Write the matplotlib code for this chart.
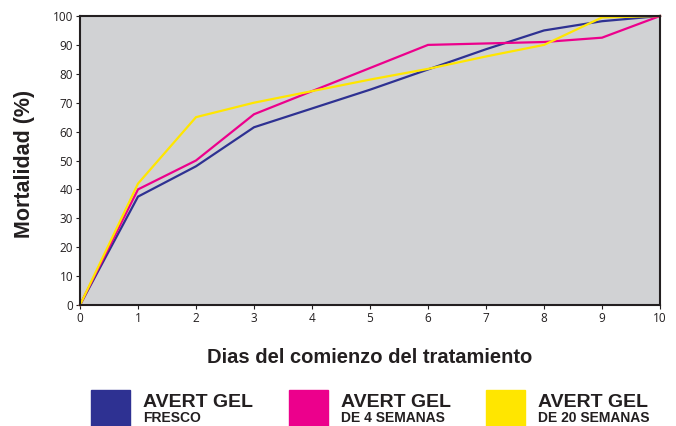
import matplotlib
matplotlib.use("Agg")
import matplotlib.pyplot as plt
from matplotlib.patches import Rectangle

days = [0, 1, 2, 3, 4, 5, 6, 7, 8, 9, 10]
fresco = [0, 37.5, 48, 61.5, 68, 74.5, 81.5, 88.5, 95, 98.2, 100]
semanas4 = [0, 40, 50, 66, 74, 82, 90, 90.5, 91, 92.5, 100]
semanas20 = [0, 42, 65, 70, 74, 78, 81.7, 86, 90, 99.5, 100]

series_names = [("AVERT GEL", "FRESCO"), ("AVERT GEL", "DE 4 SEMANAS"), ("AVERT GEL", "DE 20 SEMANAS")]
colors = ["#2E3192", "#EC008C", "#FFE600"]
yticks = list(range(0, 101, 10))

W, H = 676, 426
fig = plt.figure(figsize=(W / 100, H / 100), dpi=100)
ax = fig.add_axes([80 / W, 1 - 305 / H, 580 / W, 289 / H])
ax.set_facecolor("#D1D2D4")

for vals, c in zip([fresco, semanas4, semanas20], colors):
    ax.plot(days, vals, color=c, lw=1.6, solid_joinstyle="miter", clip_on=False)

ax.set_xlim(0, 10)
ax.set_ylim(0, 100)
ax.set_xticks(days)
ax.set_yticks(yticks)
for s in ax.spines.values():
    s.set_color("#231F20")
    s.set_linewidth(1.5)
ax.tick_params(direction="out", length=3, width=0.8, color="#231F20",
               labelsize=8.5, labelcolor="#231F20", pad=2)
for lab in ax.get_xticklabels() + ax.get_yticklabels():
    lab.set_fontfamily("Open Sans")

fig.text(369.5 / W, 1 - 363 / H, "Dias del comienzo del tratamiento", fontsize=14.5,
         fontweight="bold", fontfamily="Liberation Sans", color="#231F20",
         ha="center", va="baseline")
fig.text(25 / W, 1 - 163.5 / H, "Mortalidad (%)", fontsize=15.5, fontweight="bold",
         fontfamily="Liberation Sans", color="#231F20", rotation=90,
         ha="center", va="center")

sq_x = [91, 289, 486]
for x0, c, (l1, l2) in zip(sq_x, colors, series_names):
    fig.patches.append(Rectangle((x0 / W, 1 - 430 / H), 39 / W, 40 / H,
                                 transform=fig.transFigure, color=c, zorder=3))
    fig.text((x0 + 52) / W, 1 - 407 / H, l1, fontsize=14, fontweight="bold",
             fontfamily="Liberation Sans", color="#231F20", va="baseline")
    fig.text((x0 + 52) / W, 1 - 422 / H, l2, fontsize=10, fontweight="bold",
             fontfamily="Liberation Sans", color="#231F20", va="baseline")

fig.savefig("out.png", dpi=100)
